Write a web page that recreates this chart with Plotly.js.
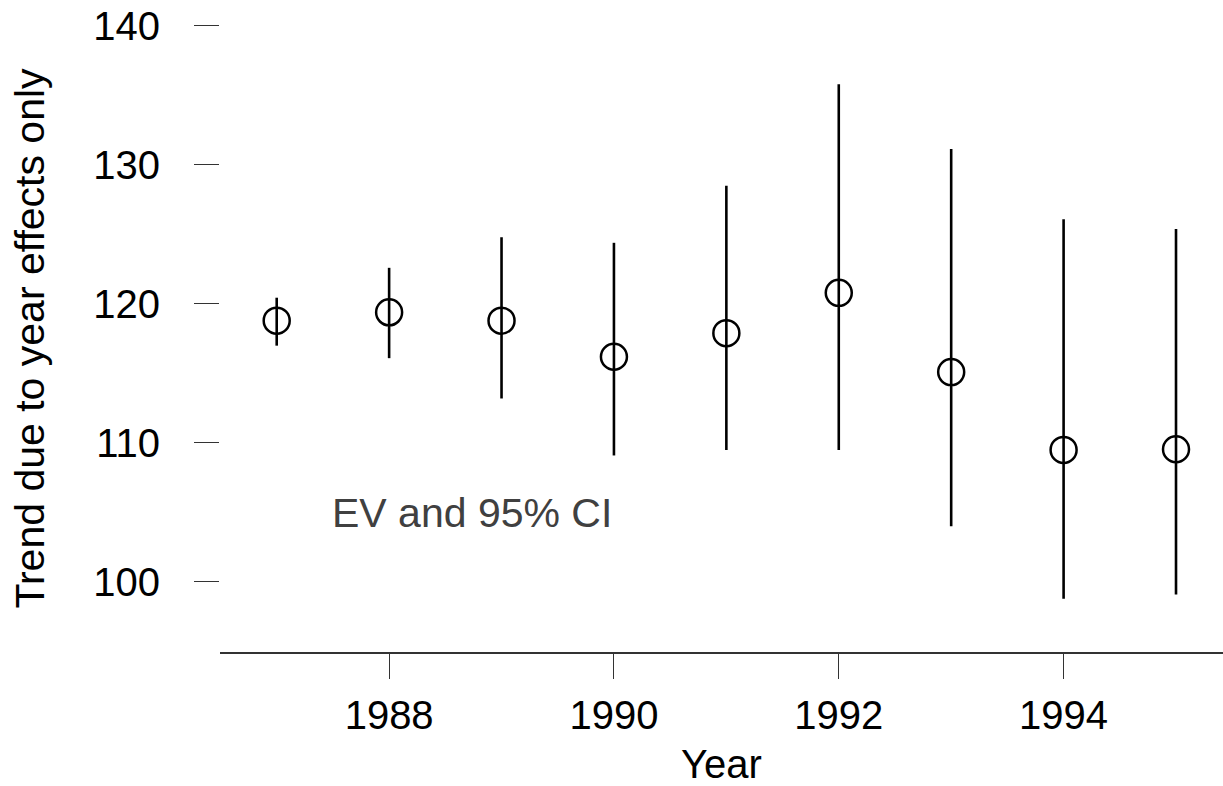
<!DOCTYPE html>
<html>
<head>
<meta charset="utf-8">
<script src="https://cdn.plot.ly/plotly-3.0.1.min.js"></script>
<style>html,body{margin:0;padding:0;background:#fff;}#chart{width:1223px;height:786px;}</style>
</head>
<body>
<div id="chart"></div>
<script>
var years = [1987, 1988, 1989, 1990, 1991, 1992, 1993, 1994, 1995];
var ev    = [118.8, 119.4, 118.8, 116.2, 117.9, 120.8, 115.1, 109.5, 109.55];
var lower = [117.0, 116.1, 113.2, 109.1, 109.5, 109.5, 104.0, 98.8, 99.1];
var upper = [120.45, 122.6, 124.8, 124.4, 128.5, 135.8, 131.15, 126.1, 125.4];
var xTicks = [1988, 1990, 1992, 1994];
var yTicks = [100, 110, 120, 130, 140];
var noteText = "EV and 95% CI";

var errPlus = upper.map(function(u, i){ return u - ev[i]; });
var errMinus = lower.map(function(l, i){ return ev[i] - l; });

var FONT = "Liberation Sans, Arial, sans-serif";

var trace = {
  x: years, y: ev, type: "scatter", mode: "markers",
  marker: {symbol: "circle-open", size: 26, color: "#000", line: {width: 2.5, color: "#000"}},
  error_y: {type: "data", symmetric: false, array: errPlus, arrayminus: errMinus,
            width: 0, thickness: 2.6, color: "#000"},
  hoverinfo: "skip"
};

var layout = {
  width: 1223, height: 786,
  margin: {l: 220, r: 0, t: 25, b: 134},
  paper_bgcolor: "#fff", plot_bgcolor: "#fff",
  showlegend: false,
  font: {family: FONT, size: 40, color: "#000"},
  xaxis: {
    range: [1986.4956, 1995.418],
    tickvals: xTicks, ticktext: xTicks.map(String),
    ticks: "outside", ticklen: 25, tickwidth: 1, tickcolor: "#333",
    showline: true, linecolor: "#333", linewidth: 1.5,
    showgrid: false, zeroline: false,
    ticklabelstandoff: 2,
    tickfont: {family: FONT, size: 40, color: "#000"},
    title: {text: "Year", font: {family: FONT, size: 40, color: "#000"}, standoff: 30}
  },
  yaxis: {
    range: [94.96, 140.07],
    tickvals: yTicks, ticktext: yTicks.map(String),
    ticks: "outside", ticklen: 25, tickwidth: 1, tickcolor: "#333",
    showline: false, showgrid: false, zeroline: false,
    ticklabelstandoff: 26,
    tickfont: {family: FONT, size: 40, color: "#000"},
    title: {text: "Trend due to year effects only", font: {family: FONT, size: 41, color: "#000"}, standoff: 35}
  },
  annotations: [{
    x: 1987.473, y: 104.96, xref: "x", yref: "y", xanchor: "left", yanchor: "middle",
    text: noteText, showarrow: false,
    font: {family: FONT, size: 41, color: "#404040"}
  }]
};

Plotly.newPlot("chart", [trace], layout, {displayModeBar: false, staticPlot: true});
</script>
</body>
</html>
